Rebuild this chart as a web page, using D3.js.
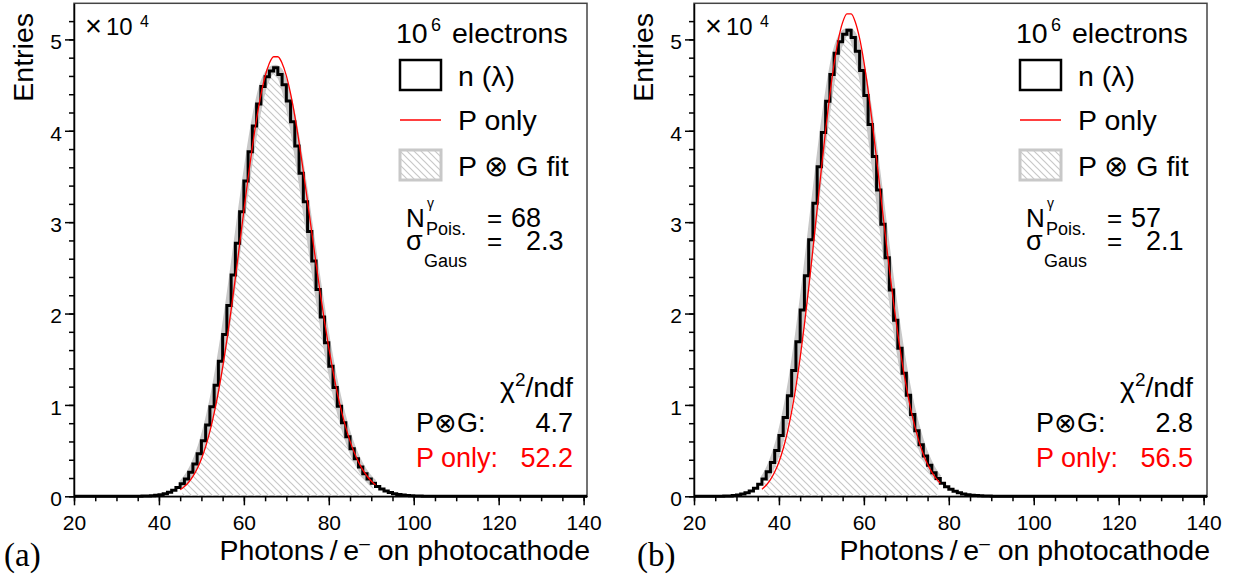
<!DOCTYPE html>
<html>
<head>
<meta charset="utf-8">
<script src="https://cdn.jsdelivr.net/npm/d3@7"></script>
<style>
    html, body { margin: 0; padding: 0; background: #fff; }
    svg { display: block; }
</style>
</head>
<body>
<svg id="chart" width="1233" height="583"></svg>
<script>
//
// ***********************************************************************************
//                      DATA  (Entries in units of 10^4)
// ***********************************************************************************
//

const xMajorTicks = [20, 40, 60, 80, 100, 120, 140];
const yMajorTicks = [0, 1, 2, 3, 4, 5];

// Panel (a): histogram bins of width 1, first bin starts at histStartA
const histStartA = 34;
const histA = [0.0007, 0.0012, 0.0022, 0.0038, 0.0065, 0.011, 0.018, 0.028, 0.043, 0.065,
    0.095, 0.136, 0.190, 0.262, 0.353, 0.467, 0.609, 0.780, 0.981, 1.214,
    1.478, 1.770, 2.087, 2.422, 2.768, 3.115, 3.450, 3.770, 4.053, 4.294,
    4.485, 4.590, 4.655, 4.690, 4.615, 4.505, 4.327, 4.100, 3.833, 3.536,
    3.224, 2.899, 2.576, 2.262, 1.961, 1.680, 1.422, 1.190, 0.985, 0.806,
    0.651, 0.521, 0.411, 0.322, 0.248, 0.190, 0.143, 0.107, 0.079, 0.057,
    0.041, 0.029, 0.020, 0.014, 0.0095, 0.0063, 0.0041, 0.0027, 0.0017, 0.0011,
    0.0007, 0.0004];
// P (x) G fit, sampled at bin centres from fitStartA
const fitStartA = 45.5;
const fitA = [0.136, 0.190, 0.262, 0.353, 0.467, 0.609, 0.780, 0.981, 1.214, 1.478,
    1.770, 2.087, 2.422, 2.768, 3.115, 3.450, 3.770, 4.053, 4.294, 4.485,
    4.600, 4.665, 4.680, 4.630, 4.505, 4.327, 4.100, 3.833, 3.536, 3.224,
    2.899, 2.576, 2.262, 1.961, 1.680, 1.422, 1.190, 0.985, 0.806, 0.651,
    0.521, 0.411, 0.322, 0.248, 0.190, 0.143];
// Poisson only, sampled at integers from poisStartA
const poisStartA = 45;
const poisA = [0.072, 0.107, 0.154, 0.218, 0.302, 0.409, 0.544, 0.710, 0.910, 1.143,
    1.410, 1.711, 2.041, 2.391, 2.758, 3.125, 3.486, 3.824, 4.131, 4.391,
    4.597, 4.738, 4.810, 4.810, 4.740, 4.604, 4.407, 4.161, 3.874, 3.558,
    3.224, 2.885, 2.546, 2.221, 1.911, 1.625, 1.366, 1.133, 0.930, 0.754,
    0.604, 0.479, 0.374, 0.290, 0.222, 0.167, 0.124];
const labelsA = ["68", "2.3", "4.7", "52.2"];

// Panel (b)
const histStartB = 25;
const histB = [0.0006, 0.0012, 0.0023, 0.0045, 0.0081, 0.014, 0.024, 0.038, 0.059, 0.089,
    0.132, 0.190, 0.268, 0.371, 0.501, 0.664, 0.863, 1.101, 1.377, 1.691,
    2.038, 2.413, 2.807, 3.208, 3.605, 3.981, 4.322, 4.616, 4.849, 4.975,
    5.055, 5.100, 5.020, 4.870, 4.659, 4.386, 4.068, 3.719, 3.351, 2.978,
    2.611, 2.257, 1.926, 1.621, 1.347, 1.105, 0.895, 0.716, 0.565, 0.441,
    0.340, 0.258, 0.194, 0.143, 0.105, 0.076, 0.054, 0.038, 0.026, 0.018,
    0.012, 0.0081, 0.0053, 0.0034, 0.0022, 0.0014, 0.0009, 0.0005];
const fitStartB = 36.5;
const fitB = [0.190, 0.268, 0.371, 0.501, 0.664, 0.863, 1.101, 1.377, 1.691, 2.038,
    2.413, 2.807, 3.208, 3.605, 3.981, 4.322, 4.616, 4.849, 4.990, 5.070,
    5.085, 5.030, 4.875, 4.659, 4.386, 4.068, 3.719, 3.351, 2.978, 2.611,
    2.257, 1.926, 1.621, 1.347, 1.105, 0.895, 0.716, 0.565, 0.441, 0.340,
    0.258, 0.194];
const poisStartB = 36;
const poisB = [0.078, 0.121, 0.182, 0.265, 0.375, 0.520, 0.703, 0.929, 1.201, 1.518,
    1.879, 2.276, 2.703, 3.145, 3.586, 4.010, 4.399, 4.735, 5.001, 5.186,
    5.280, 5.280, 5.188, 5.010, 4.757, 4.443, 4.081, 3.690, 3.284, 2.879,
    2.487, 2.116, 1.775, 1.468, 1.197, 0.963, 0.765, 0.598, 0.461, 0.351,
    0.264, 0.195, 0.142];
const labelsB = ["57", "2.1", "2.8", "56.5"];

//
// ***********************************************************************************
//                      SETUP
// ***********************************************************************************
//

const FONT = "'Liberation Sans', Arial, Helvetica, sans-serif";
const SERIF = "'Liberation Serif', 'DejaVu Serif', serif";
const X_MIN = 20, X_MAX = 140.8, Y_MAX = 5.395;
const TOP = 3.3, BOTTOM = 496.3, WIDTH = 513;
const GRAY = "#c8c8c8";
const BIG = 28.5;      // legend / title text size

const svg = d3.select("#chart");

// Hatch for the fit area and its legend box.
svg.append("defs").append("pattern")
    .attr("id", "hatch")
    .attr("patternUnits", "userSpaceOnUse")
    .attr("width", 7)
    .attr("height", 7)
    .append("path")
    .attr("d", "M0,0L7,7M-1,6L1,8M6,-1L8,1")
    .attr("stroke", GRAY)
    .attr("stroke-width", 1.2);

//
// ***********************************************************************************
//                      CLASS DEFINITION
// ***********************************************************************************
//

class HistPanel {

    #g;     // group, translated to the frame's left edge
    #x;
    #y;

    constructor(svg, left) {
        this.#g = svg.append("g").attr("transform", `translate(${left},0)`);
        this.#x = d3.scaleLinear().domain([X_MIN, X_MAX]).range([0, WIDTH]);
        this.#y = d3.scaleLinear().domain([0, Y_MAX]).range([BOTTOM, TOP]);
    }

    text(x, y, str, size, opts = {}) {
        return this.#g.append("text")
            .attr("x", x)
            .attr("y", y)
            .attr("font-family", opts.family || FONT)
            .attr("font-size", size)
            .attr("fill", opts.fill || "#000")
            .attr("text-anchor", opts.anchor || "start")
            .text(str);
    }

    drawFrame() {
        this.#g.append("rect")
            .attr("x", 0)
            .attr("y", TOP)
            .attr("width", WIDTH)
            .attr("height", BOTTOM - TOP)
            .attr("fill", "none")
            .attr("stroke", "#444")
            .attr("stroke-width", 1.5);
    }

    drawFit(start, values) {
        const pts = values.map((v, i) => ({ x: start + i, v: v }));

        this.#g.append("path")
            .datum(pts)
            .attr("fill", "url(#hatch)")
            .attr("d", d3.area()
                .x(d => this.#x(d.x))
                .y0(this.#y(0))
                .y1(d => this.#y(d.v))
                .curve(d3.curveMonotoneX));

        this.#g.append("path")
            .datum(pts)
            .attr("fill", "none")
            .attr("stroke", GRAY)
            .attr("stroke-width", 8)
            .attr("d", d3.line()
                .x(d => this.#x(d.x))
                .y(d => this.#y(d.v))
                .curve(d3.curveMonotoneX));
    }

    drawHist(start, values) {
        const pts = [{ x: X_MIN, v: 0 }]
            .concat(values.map((v, i) => ({ x: start + i, v: v })))
            .concat([{ x: start + values.length, v: 0 }, { x: X_MAX, v: 0 }]);

        this.#g.append("path")
            .datum(pts)
            .attr("fill", "none")
            .attr("stroke", "#000")
            .attr("stroke-width", 3)
            .attr("d", d3.line()
                .x(d => this.#x(d.x))
                .y(d => this.#y(d.v))
                .curve(d3.curveStepAfter));
    }

    drawPoisson(start, values) {
        const pts = values.map((v, i) => ({ x: start + i, v: v }));

        this.#g.append("path")
            .datum(pts)
            .attr("fill", "none")
            .attr("stroke", "#ff0000")
            .attr("stroke-width", 1.3)
            .attr("d", d3.line()
                .x(d => this.#x(d.x))
                .y(d => this.#y(d.v))
                .curve(d3.curveMonotoneX));
    }

    drawAxes() {
        const style = sel => {
            sel.attr("font-family", FONT).attr("font-size", 21);
            sel.selectAll("line").attr("stroke", "#000").attr("stroke-width", 1.5);
            sel.selectAll("path").attr("stroke", "#000").attr("stroke-width", 1.5);
        };

        // X Axis.
        this.#g.append("g")
            .attr("transform", `translate(0,${BOTTOM})`)
            .call(d3.axisBottom(this.#x).tickValues(d3.range(20, 141, 5))
                .tickSize(5).tickSizeOuter(0).tickFormat(""))
            .call(style)
            .call(g => g.select(".domain").remove());
        this.#g.append("g")
            .attr("transform", `translate(0,${BOTTOM})`)
            .call(d3.axisBottom(this.#x).tickValues(xMajorTicks)
                .tickSize(9).tickSizeOuter(0).tickPadding(10).tickFormat(d => d))
            .call(style);

        // Y Axis.
        this.#g.append("g")
            .call(d3.axisLeft(this.#y).tickValues(d3.range(0, 5.4, 0.2))
                .tickSize(5).tickSizeOuter(0).tickFormat(""))
            .call(style)
            .call(g => g.select(".domain").remove());
        this.#g.append("g")
            .call(d3.axisLeft(this.#y).tickValues(yMajorTicks)
                .tickSize(9).tickSizeOuter(0).tickPadding(3).tickFormat(d => d))
            .call(style)
            .call(g => g.selectAll("text").attr("dy", "0.45em"));

        // Axis titles.
        this.#g.append("text")
            .attr("transform", "translate(-41,13) rotate(-90)")
            .attr("font-family", FONT)
            .attr("font-size", BIG)
            .attr("text-anchor", "end")
            .text("Entries");

        const xt = this.text(516, 560, "", BIG, { anchor: "end" });
        xt.append("tspan").text("Photons\u2009/\u2009e");
        xt.append("tspan").attr("dy", -11).attr("font-size", 19).text("\u2013");
        xt.append("tspan").attr("dy", 11).text(" on photocathode");

        // Exponent.
        this.text(11, 36, "\u00d7", 29);
        this.text(32, 35, "10", 24);
        this.text(66, 27, "4", 16);
    }

    drawLegend() {
        this.text(322, 43, "10", BIG);
        this.text(357, 31, "6", 18);
        this.text(378, 43, "electrons", BIG);

        this.#g.append("rect")
            .attr("x", 326).attr("y", 60).attr("width", 41).attr("height", 30)
            .attr("fill", "#fff").attr("stroke", "#000").attr("stroke-width", 2.5);
        this.text(384, 86, "n (\u03bb)", BIG);

        this.#g.append("line")
            .attr("x1", 326).attr("x2", 367).attr("y1", 120).attr("y2", 120)
            .attr("stroke", "#ff0000").attr("stroke-width", 1.3);
        this.text(384, 130, "P only", BIG);

        this.#g.append("rect")
            .attr("x", 326).attr("y", 150).attr("width", 41).attr("height", 30)
            .attr("fill", "url(#hatch)").attr("stroke", GRAY).attr("stroke-width", 3);
        this.text(384, 176, "P \u2297 G fit", BIG);
    }

    drawStats(labels, tag, tagX) {
        this.text(332, 227, "N", 26);
        this.text(353, 208, "\u03b3", 14);
        this.text(352, 235, "Pois.", 18);
        this.text(413, 227, "=", 26);
        this.text(437, 227, labels[0], 27);

        this.text(332, 250, "\u03c3", 27);
        this.text(350, 267, "Gaus", 18);
        this.text(413, 250, "=", 26);
        this.text(452, 250, labels[1], 27);

        const chi = this.text(499, 397, "", BIG, { anchor: "end" });
        chi.append("tspan").text("\u03c7");
        chi.append("tspan").attr("dy", -11).attr("font-size", 19).text("2");
        chi.append("tspan").attr("dy", 11).text("/ndf");

        this.text(342, 432, "P\u2297G:", 27);
        this.text(499, 432, labels[2], 27, { anchor: "end" });
        this.text(342, 467, "P only:", 27, { fill: "#ff0000" });
        this.text(499, 467, labels[3], 27, { anchor: "end", fill: "#ff0000" });

        this.text(tagX, 566, tag, 33, { family: SERIF });
    }
}

//
// ***********************************************************************************
//                      DRAW
// ***********************************************************************************
//

const panelA = new HistPanel(svg, 74);
panelA.drawFrame();
panelA.drawFit(fitStartA, fitA);
panelA.drawHist(histStartA, histA);
panelA.drawPoisson(poisStartA, poisA);
panelA.drawAxes();
panelA.drawLegend();
panelA.drawStats(labelsA, "(a)", -70);

const panelB = new HistPanel(svg, 694);
panelB.drawFrame();
panelB.drawFit(fitStartB, fitB);
panelB.drawHist(histStartB, histB);
panelB.drawPoisson(poisStartB, poisB);
panelB.drawAxes();
panelB.drawLegend();
panelB.drawStats(labelsB, "(b)", -57);
</script>
</body>
</html>
